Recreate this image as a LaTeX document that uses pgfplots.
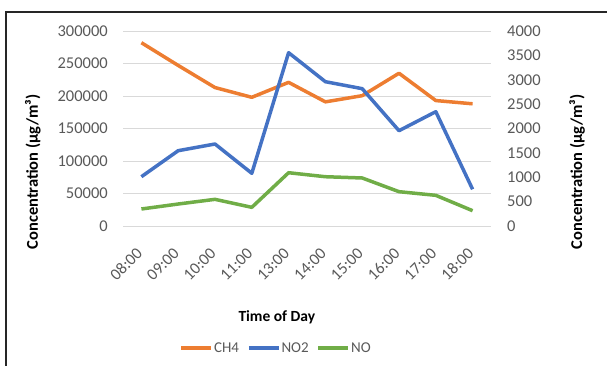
\documentclass[border=0pt]{standalone}
\usepackage{fontspec}
\setmainfont{Carlito}
\usepackage{pgfplots}
\pgfplotsset{compat=1.18}
\definecolor{cCH}{HTML}{ED7D31}
\definecolor{cNOT}{HTML}{4472C4}
\definecolor{cNO}{HTML}{70AD47}
\definecolor{tick}{HTML}{595959}
\definecolor{gridc}{HTML}{D9D9D9}
\begin{document}
\begin{tikzpicture}[x=1pt,y=1pt]
\useasboundingbox (0,0) rectangle (607,365);
\draw[line width=2pt, color=black!85] (6,-2) -- (6,353) -- (609,353);
\pgfplotsset{
  common/.style={
    at={(123pt,139pt)}, anchor=south west, scale only axis,
    width=368pt, height=195pt,
    xmin=-0.5, xmax=9.5,
    major tick length=0pt,
    axis line style={draw=none},
    scaled y ticks=false,
    /pgf/number format/fixed,
    /pgf/number format/precision=0,
    /pgf/number format/assume math mode=true,
    /pgf/number format/1000 sep={},
    tick label style={font=\fontsize{16.5}{19}\selectfont, color=tick},
    label style={font=\fontsize{16.5}{19}\selectfont\bfseries, color=black},
  },
}
\begin{axis}[common,
  axis x line*=bottom, axis y line*=left,
  ymin=0, ymax=300000, ytick={0,50000,...,300000},
  ymajorgrids, grid style={gridc, line width=1pt},
  xtick={0,...,9},
  xticklabels={08:00,09:00,10:00,11:00,13:00,14:00,15:00,16:00,17:00,18:00},
  xticklabel style={yshift=-21pt, xshift=2pt, rotate=45, anchor=east, inner sep=5.5pt},
  yticklabel style={inner sep=0pt, xshift=-15pt},
  xlabel={Time of Day},
  xlabel style={at={(axis description cs:0.418,-0.467)}, anchor=center, font=\fontsize{15.5}{18}\selectfont\bfseries},
  ylabel={Concentration (µg/m³)},
  ylabel style={at={(axis description cs:-0.245,0.277)}, anchor=center},
  legend columns=3,
  legend style={at={(axis description cs:0.415,-0.626)}, anchor=center, draw=none, fill=none,
    font=\fontsize{15}{17}\selectfont, text=tick,
    /tikz/every even column/.append style={column sep=7pt},
    nodes={inner sep=1pt}},
  legend image code/.code={\draw[#1, line width=3.5pt] (0pt,0pt) -- (30pt,0pt);},
]
\addplot[cCH, line width=3.5pt, line join=round] coordinates {
(0,282000) (1,247000) (2,213000) (3,198000) (4,221000) (5,191000) (6,200500) (7,235000) (8,193000) (9,188000)};
\addlegendentry{CH4}
\addlegendimage{cNOT}
\addlegendentry{NO2}
\addlegendimage{cNO}
\addlegendentry{NO}
\end{axis}
\begin{axis}[common,
  axis y line*=right, hide x axis,
  ymin=0, ymax=4000, ytick={0,500,...,4000},
  yticklabel style={inner sep=0pt, xshift=16pt},
  ylabel={Concentration (µg/m³)},
  ylabel style={at={(axis description cs:1.234,0.277)}, anchor=center, rotate=0},
]
\addplot[cNOT, line width=3.5pt, line join=round] coordinates {
(0,1011) (1,1545) (2,1682) (3,1081) (4,3555) (5,2960) (6,2817) (7,1955) (8,2345) (9,753)};
\addplot[cNO, line width=3.5pt, line join=round] coordinates {
(0,349) (1,451) (2,547) (3,383) (4,1093) (5,1011) (6,985) (7,704) (8,629) (9,314)};
\end{axis}
\end{tikzpicture}
\end{document}
